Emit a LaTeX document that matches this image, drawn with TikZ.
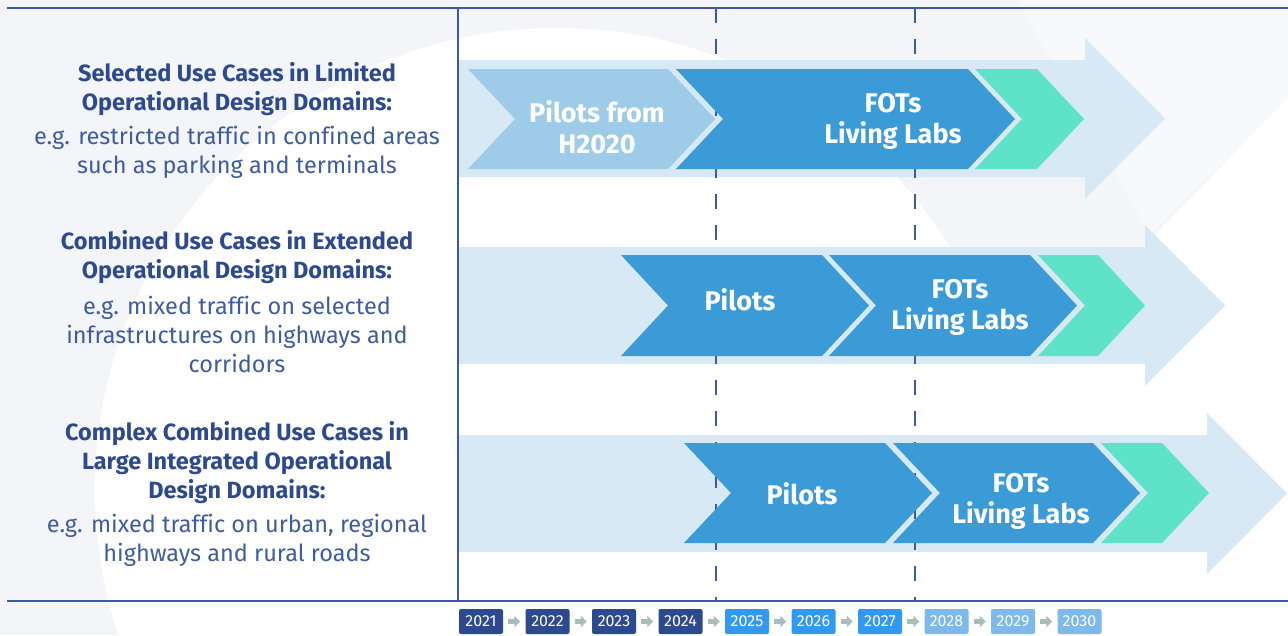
\documentclass[tikz,border=0pt]{standalone}
\usepackage{fontspec}
\setmainfont{Fira Sans}[Ligatures=NoCommon]
\usetikzlibrary{arrows.meta}
\definecolor{navy}{HTML}{2E4A8E}
\definecolor{navysoft}{HTML}{3F5C9E}
\definecolor{rule}{HTML}{3D5A9E}
\definecolor{bggray}{HTML}{F3F5F9}
\definecolor{bglight}{HTML}{F8F9FC}
\definecolor{band}{HTML}{D6E9F5}
\definecolor{pilotlight}{HTML}{9ECBE8}
\definecolor{pilotdark}{HTML}{3A9BD6}
\definecolor{mint}{HTML}{5EE2C8}
\definecolor{yearA}{HTML}{2E4A8E}
\definecolor{yearB}{HTML}{3399F0}
\definecolor{yearC}{HTML}{7DB9EA}
\definecolor{yeararrow}{HTML}{A9BEBA}

\begin{document}
\begin{tikzpicture}[
  x=1pt, y=-1pt,
  head/.style={text=navy, align=center, font={\fontsize{23.5}{29}\selectfont\bfseries}},
  desc/.style={text=navysoft, align=center, font={\fontsize{23.5}{29}\selectfont}},
  phase/.style={text=white, align=center, font={\fontsize{27}{31}\selectfont\bfseries}},
  frame/.style={draw=rule, line width=1.3pt},
  yearline/.style={draw=rule, line width=1.1pt, dash pattern=on 15pt off 16pt},
  year/.style={rounded corners=2pt, minimum width=44pt, minimum height=25pt, inner sep=0pt,
    text=white, font={\fontsize{16}{18}\selectfont}},
  yarrow/.style={draw=yeararrow, line width=5pt, -{Triangle[width=11pt,length=6pt]},
    shorten <=5pt, shorten >=5pt}
]
\useasboundingbox (0,0) rectangle (1288,635);

% background
\fill[bggray] (0,0) rectangle (1288,635);
\begin{scope}
  \clip (0,0) rectangle (1288,635);
  \fill[white] (557,490) circle (462);
  \fill[white] (557,250) -- (1140,250) -- (1288,97) -- (1288,635) -- (557,635) -- cycle;
  \fill[bglight] (1017,0) -- (1288,0) -- (1288,97) -- (1150,235) -- cycle;
\end{scope}

% bands with arrow heads
\foreach \t/\b/\e in {60/177/1085, 247/364/1145, 435/552/1207} {
  \fill[band] (458,\t) -- (\e,\t) -- (\e,\t-22) -- (\e+80,{(\t+\b)/2}) -- (\e,\b+22)
    -- (\e,\b) -- (458,\b) -- cycle;
}

% frame and year marks
\draw[yearline] (716,8) -- (716,601);
\draw[yearline] (915,8) -- (915,601);
\draw[frame] (7,8) -- (1288,8);
\draw[frame] (7,601) -- (1288,601);
\draw[frame] (458,8) -- (458,601);

% chevrons: top/bottom/left/right/colour
\foreach \t/\b/\l/\r/\c in {69/169/468/668/pilotlight, 69/169/676/968/pilotdark, 69/169/975/1037/mint,
    255/356/621/822/pilotdark, 255/356/829/1030/pilotdark, 255/356/1038/1098/mint,
    443/543/684/885/pilotdark, 443/543/893/1093/pilotdark, 443/543/1101/1162/mint} {
  \fill[\c] (\l,\t) -- (\r,\t) -- (\r+47,{(\t+\b)/2}) -- (\r,\b) -- (\l,\b)
    -- (\l+47,{(\t+\b)/2}) -- cycle;
}

% phase labels
\node[phase] (h2020) at (597,127) {Pilots from\\H2020};
\node[phase] (fots1) at (893,121) {FOTs\\Living Labs};
\node[phase] (pil2) at (740,300) {Pilots};
\node[phase] (fots2) at (960,307) {FOTs\\Living Labs};
\node[phase] (pil3) at (802,494) {Pilots};
\node[phase] (fots3) at (1021,501) {FOTs\\Living Labs};

% use case texts
\node[head] (head1) at (237,89) {Selected Use Cases in Limited\\Operational Design Domains:};
\node[desc] (desc1) at (237,152) {e.g. restricted traffic in confined areas\\such as parking and terminals};
\node[head] (head2) at (237,257) {Combined Use Cases in Extended\\Operational Design Domains:};
\node[desc] (desc2) at (237,334) {e.g. mixed traffic on selected\\infrastructures on highways and\\corridors};
\node[head] (head3) at (237,463) {Complex Combined Use Cases in\\Large Integrated Operational\\Design Domains:};
\node[desc] (desc3) at (237,540) {e.g. mixed traffic on urban, regional\\highways and rural roads};

% years
\foreach \i/\c in {1/yearA, 2/yearA, 3/yearA, 4/yearA, 5/yearB, 6/yearB, 7/yearB, 8/yearC, 9/yearC} {
  \node[year, fill=\c] (y\i) at (481+66.5*\i-66.5,621.5) {202\i};
}
\node[year, fill=yearC] (y10) at (1079.5,621.5) {2030};
\foreach \i [evaluate=\i as \j using int(\i+1)] in {1,...,9} {
  \draw[yarrow] (y\i.east) -- (y\j.west);
}
\end{tikzpicture}
\end{document}
